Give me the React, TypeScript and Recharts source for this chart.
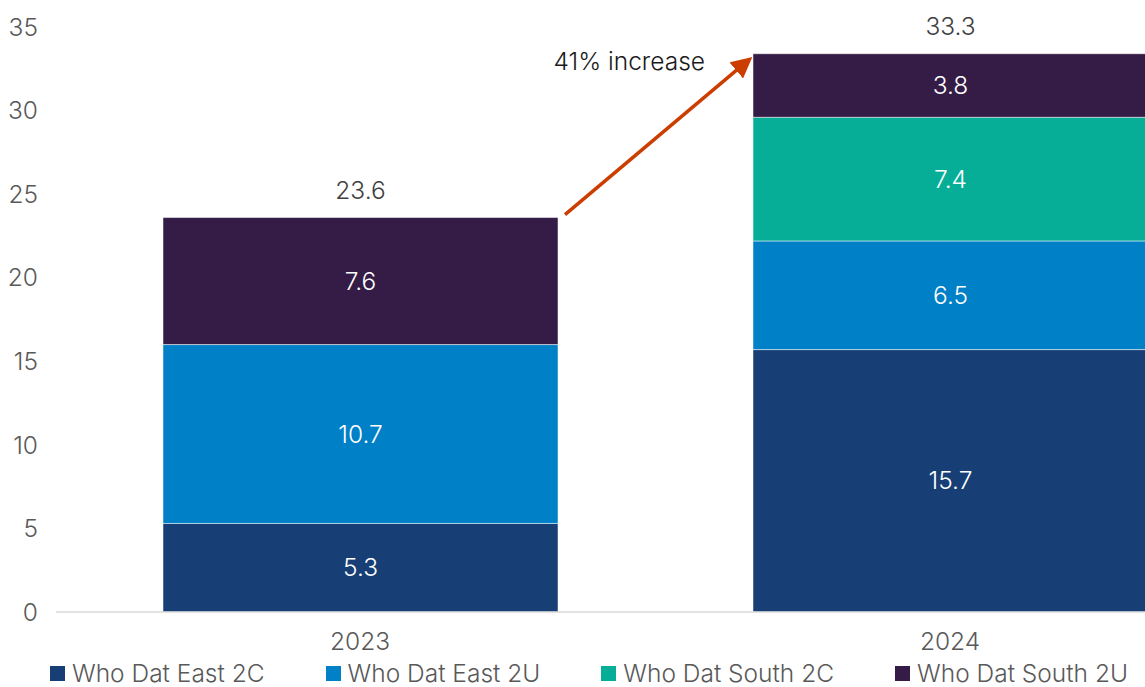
import React from "react";
import {
  BarChart,
  Bar,
  XAxis,
  YAxis,
  LabelList,
  ReferenceLine,
  Legend,
} from "recharts";

const years = ["2023", "2024"];
const eastC = [5.3, 15.7];
const eastU = [10.7, 6.5];
const southC = [null, 7.4];
const southU = [7.6, 3.8];
const totals = [23.6, 33.3];
const yTicks = [0, 5, 10, 15, 20, 25, 30, 35];

const series = [
  { key: "eastC", name: "Who Dat East 2C", color: "#173E75" },
  { key: "eastU", name: "Who Dat East 2U", color: "#0080C7" },
  { key: "southC", name: "Who Dat South 2C", color: "#06AE97" },
  { key: "southU", name: "Who Dat South 2U", color: "#351C46" },
];

const data = years.map((year, i) => ({
  year,
  eastC: eastC[i],
  eastU: eastU[i],
  southC: southC[i],
  southU: southU[i],
  total: totals[i],
}));

const FONT = "Inter, 'Open Sans', sans-serif";
const FS = 24.5;

const fmt = (v: any) => (v == null || v === 0 ? "" : Number(v).toFixed(1));

const ArrowShape = (props: any) => {
  const { x1, y1, x2, y2 } = props;
  const sx = x1 + 205;
  const sy = y1 - 3;
  const ex = x2 - 203;
  const ey = y2 + 6;
  return (
    <g>
      <defs>
        <marker
          id="arrowHead"
          markerWidth="6"
          markerHeight="6"
          refX="4"
          refY="3"
          orient="auto"
          markerUnits="strokeWidth"
        >
          <path d="M0,0 L6,3 L0,6 z" fill="#CC3D00" />
        </marker>
      </defs>
      <line
        x1={sx}
        y1={sy}
        x2={ex}
        y2={ey}
        stroke="#CC3D00"
        strokeWidth={3.5}
        markerEnd="url(#arrowHead)"
      />
      <text
        x={ex - 42}
        y={y2 + 15}
        textAnchor="end"
        fill="#1a1a1a"
        fontSize={FS}
        fontWeight={300}
        fontFamily={FONT}
      >
        41% increase
      </text>
    </g>
  );
};

const LegendContent = () => (
  <div
    style={{
      display: "flex",
      gap: 61,
      paddingLeft: 50,
      fontFamily: FONT,
      fontSize: FS,
      fontWeight: 300,
      lineHeight: "18px",
      color: "#595959",
      alignItems: "center",
      height: 22,
    }}
  >
    {series.map((s) => (
      <div key={s.key} style={{ display: "flex", alignItems: "center", gap: 7 }}>
        <span style={{ width: 15, height: 15, background: s.color, display: "inline-block" }} />
        <span>{s.name}</span>
      </div>
    ))}
  </div>
);

export default function App() {
  return (
    <div
      style={{
        position: "absolute",
        left: 0,
        top: 0,
        width: 1145,
        height: 687,
        overflow: "hidden",
        background: "#fff",
      }}
    >
      <BarChart
        width={1250}
        height={687}
        data={data}
        margin={{ top: 27, right: 5, bottom: 0, left: 0 }}
        barSize={395}
      >
        <XAxis
          dataKey="year"
          padding={{ left: 9, right: 0 }}
          axisLine={{ stroke: "#D9D9D9", strokeWidth: 1.5 }}
          tickLine={false}
          tickMargin={15}
          height={51}
          tick={{ fill: "#595959", fontSize: FS, fontWeight: 300, fontFamily: FONT }}
        />
        <YAxis
          width={56}
          domain={[0, 35]}
          ticks={yTicks}
          axisLine={false}
          tickLine={false}
          tickMargin={12}
          tick={{ fill: "#595959", fontSize: FS, fontWeight: 300, fontFamily: FONT }}
        />
        <Legend
          verticalAlign="bottom"
          align="left"
          height={24}
          content={<LegendContent />}
          wrapperStyle={{ left: 0, bottom: 1 }}
        />
        {series.map((s) => (
          <Bar
            key={s.key}
            dataKey={s.key}
            name={s.name}
            stackId="a"
            fill={s.color}
            stroke="#ffffff"
            strokeWidth={0.5}
            isAnimationActive={false}
          >
            <LabelList
              dataKey={s.key}
              position="center"
              formatter={fmt}
              style={{ fill: "#ffffff", fontSize: FS, fontWeight: 300, fontFamily: FONT }}
            />
            {s.key === "southU" && (
              <LabelList
                dataKey="total"
                position="top"
                offset={19}
                formatter={fmt}
                style={{ fill: "#404040", fontSize: FS, fontWeight: 300, fontFamily: FONT }}
              />
            )}
          </Bar>
        ))}
        <ReferenceLine
          segment={[
            { x: "2023", y: totals[0] },
            { x: "2024", y: totals[1] },
          ]}
          ifOverflow="visible"
          shape={<ArrowShape />}
        />
      </BarChart>
    </div>
  );
}
